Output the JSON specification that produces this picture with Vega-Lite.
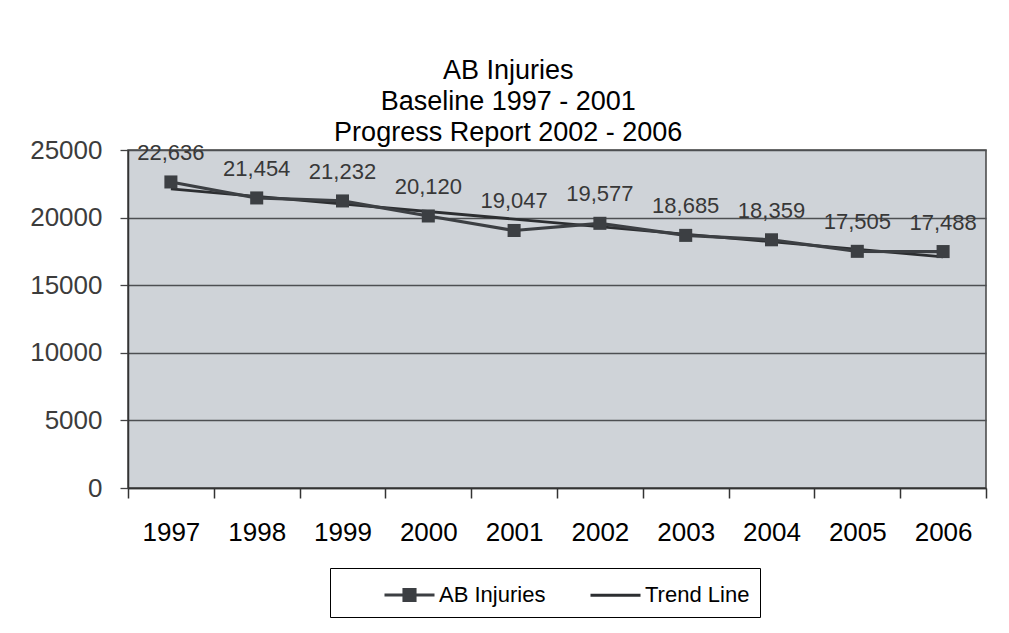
{
  "$schema": "https://vega.github.io/schema/vega-lite/v6.json",
  "autosize": {"type": "none"},
  "width": 858,
  "height": 338,
  "padding": {"left": 128, "top": 150, "right": 23, "bottom": 145},
  "background": "#ffffff",
  "title": {
    "text": ["AB Injuries", "Baseline 1997 - 2001", "Progress Report 2002 - 2006"],
    "font": "Liberation Sans",
    "fontSize": 27,
    "fontWeight": "normal",
    "lineHeight": 31,
    "color": "#000000",
    "anchor": "middle",
    "frame": "bounds",
    "offset": -10
  },
  "data": {
    "values": [
      {"year": 1997, "value": 22636},
      {"year": 1998, "value": 21454},
      {"year": 1999, "value": 21232},
      {"year": 2000, "value": 20120},
      {"year": 2001, "value": 19047},
      {"year": 2002, "value": 19577},
      {"year": 2003, "value": 18685},
      {"year": 2004, "value": 18359},
      {"year": 2005, "value": 17505},
      {"year": 2006, "value": 17488}
    ]
  },
  "encoding": {
    "x": {
      "field": "year",
      "type": "ordinal",
      "scale": {"type": "band", "paddingInner": 0, "paddingOuter": 0},
      "axis": {
        "title": null,
        "labelAngle": 0,
        "labelFont": "Liberation Sans",
        "labelFontSize": 26,
        "labelColor": "#000000",
        "labelPadding": 21,
        "labelOverlap": false,
        "tickBand": "extent",
        "tickSize": 10,
        "tickColor": "#333333",
        "tickWidth": 1.5,
        "domainColor": "#333333",
        "domainWidth": 1.5,
        "grid": false
      }
    },
    "y": {
      "field": "value",
      "type": "quantitative",
      "scale": {"domain": [0, 25000], "nice": false},
      "axis": {
        "title": null,
        "values": [0, 5000, 10000, 15000, 20000, 25000],
        "format": "d",
        "labelFont": "Liberation Sans",
        "labelFontSize": 26,
        "labelColor": "#3c3c3c",
        "labelPadding": 18,
        "tickSize": 8,
        "tickColor": "#444444",
        "tickWidth": 1.3,
        "domainColor": "#333333",
        "domainWidth": 1.5,
        "grid": true,
        "gridColor": "#4d4f52",
        "gridWidth": 1.3
      }
    }
  },
  "layer": [
    {
      "transform": [{"regression": "value", "on": "year"}],
      "mark": {"type": "line", "strokeWidth": 2.8},
      "encoding": {
        "color": {"datum": "Trend Line"}
      }
    },
    {
      "mark": {
        "type": "line",
        "strokeWidth": 3.2,
        "point": {"shape": "square", "filled": true, "size": 170, "color": "#383b3f"}
      },
      "encoding": {
        "color": {
          "datum": "AB Injuries",
          "scale": {"domain": ["AB Injuries", "Trend Line"], "range": ["#3c3f43", "#2c2e31"]},
          "legend": {
            "orient": "none",
            "legendX": 202,
            "legendY": 418,
            "direction": "horizontal",
            "title": null,
            "strokeColor": "#000000",
            "fillColor": "#ffffff",
            "padding": 10,
            "labelFont": "Liberation Sans",
            "labelFontSize": 22,
            "labelColor": "#000000",
            "labelOffset": 13,
            "symbolType": "stroke",
            "symbolSize": 900,
            "symbolOffset": 53,
            "symbolStrokeWidth": 3,
            "columnPadding": 0,
            "encode": {
              "symbols": {
                "update": {
                  "shape": {"signal": "datum.value === 'AB Injuries' ? 'M-1.667,0H1.667M-0.37,-0.37H0.37V0.37H-0.37Z' : 'M-1.667,0H1.667'"},
                  "fill": {"signal": "datum.value === 'AB Injuries' ? '#000000' : 'transparent'"},
                  "stroke": {"value": "#000000"}
                }
              }
            }
          }
        }
      }
    },
    {
      "mark": {
        "type": "text",
        "font": "Liberation Sans",
        "fontSize": 22,
        "color": "#383838",
        "dy": -29,
        "baseline": "middle"
      },
      "encoding": {
        "text": {"field": "value", "type": "quantitative", "format": ","}
      }
    }
  ],
  "config": {
    "view": {"fill": "#cfd3d8", "stroke": "#444444", "strokeWidth": 1.5}
  }
}
